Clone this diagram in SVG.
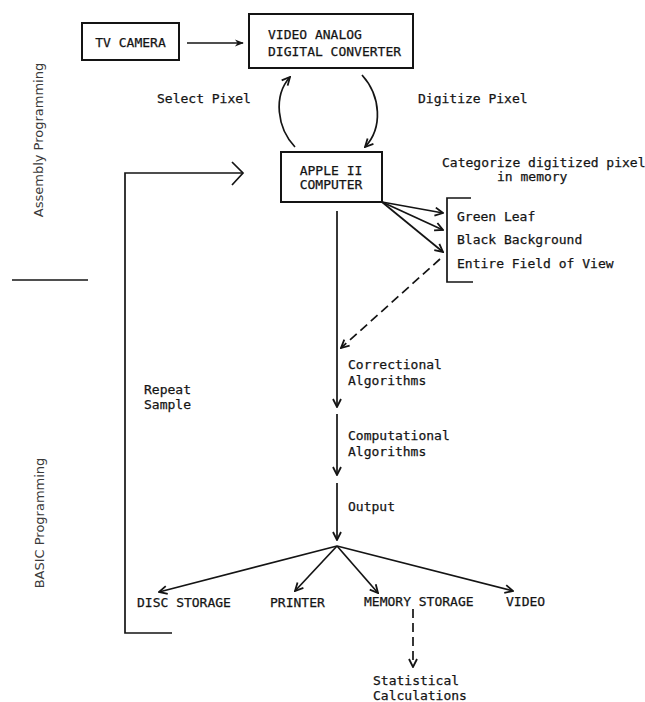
<svg xmlns="http://www.w3.org/2000/svg" width="645" height="702" viewBox="0 0 645 702">
<style>
text{font-family:"DejaVu Sans Mono","Liberation Mono",monospace;font-size:13px;fill:#141414;stroke:#141414;stroke-width:0.25}
.side{fill:#3a3a3a;stroke:none;font-family:"DejaVu Sans","Liberation Sans",sans-serif}
.box{fill:#fff;stroke:#141414;stroke-width:2}
.ln{fill:none;stroke:#141414;stroke-width:1.7}
.dash{stroke-dasharray:9 5}
</style>
<defs>
<marker id="v" viewBox="0 0 10 10" refX="9" refY="5" markerWidth="10" markerHeight="10" orient="auto" markerUnits="userSpaceOnUse">
<path d="M1,1 L9,5 L1,9" fill="none" stroke="#141414" stroke-width="1.8"/>
</marker>
<marker id="f" viewBox="0 0 10 10" refX="9" refY="5" markerWidth="10" markerHeight="9" orient="auto" markerUnits="userSpaceOnUse">
<path d="M0,1 L10,5 L0,9 L3,5 Z" fill="#141414"/>
</marker>
</defs>
<g id="labels">
<text class="side" transform="translate(43,140) rotate(-90)" text-anchor="middle" font-size="12.5">Assembly Programming</text>
<text class="side" transform="translate(44,523) rotate(-90)" text-anchor="middle" font-size="12.5">BASIC Programming</text>
<line class="ln" x1="12" y1="280" x2="88" y2="280"/>
</g>
<g id="tv-camera">
<rect class="box" x="82" y="23" width="97" height="37"/>
<text x="130.5" y="46.5" text-anchor="middle">TV CAMERA</text>
</g>
<g id="converter">
<rect class="box" x="249" y="14" width="164" height="54"/>
<text x="268" y="39">VIDEO ANALOG</text>
<text x="268" y="56">DIGITAL CONVERTER</text>
</g>
<g id="apple">
<rect class="box" x="281" y="152" width="101" height="50" stroke-width="2.4"/>
<text x="331" y="175" text-anchor="middle">APPLE II</text>
<text x="331" y="189" text-anchor="middle">COMPUTER</text>
</g>
<g id="categories">
<text x="442" y="167">Categorize digitized pixel</text>
<text x="497" y="181">in memory</text>
<path class="ln" d="M471,198 H447 V282 H473" stroke-width="2"/>
<text x="457" y="221">Green Leaf</text>
<text x="457" y="244">Black Background</text>
<text x="457" y="268">Entire Field of View</text>
</g>
<g id="steps">
<text x="157" y="103">Select Pixel</text>
<text x="418" y="103">Digitize Pixel</text>
<text x="348" y="369">Correctional</text>
<text x="348" y="385">Algorithms</text>
<text x="348" y="440">Computational</text>
<text x="348" y="456">Algorithms</text>
<text x="348" y="511">Output</text>
<text x="144" y="394">Repeat</text>
<text x="144" y="409">Sample</text>
</g>
<g id="outputs">
<text x="137" y="607">DISC STORAGE</text>
<text x="270" y="607">PRINTER</text>
<text x="364" y="606">MEMORY STORAGE</text>
<text x="506" y="606">VIDEO</text>
<text x="373" y="685">Statistical</text>
<text x="373" y="700">Calculations</text>
</g>
<g id="connectors">
<line class="ln" x1="187" y1="43" x2="243" y2="43" stroke-width="2" marker-end="url(#f)"/>
<path class="ln" d="M295,147 C277,128 273,96 290,77" marker-end="url(#v)"/>
<path class="ln" d="M362,75 C381,96 383,128 365,147" marker-end="url(#v)"/>
<line class="ln" x1="382" y1="202" x2="443" y2="213" marker-end="url(#v)"/>
<line class="ln" x1="382" y1="202" x2="443" y2="230" marker-end="url(#v)"/>
<line class="ln" x1="382" y1="202" x2="443" y2="252" marker-end="url(#v)"/>
<line class="ln dash" x1="440" y1="259" x2="341" y2="348" marker-end="url(#v)"/>
<line class="ln" x1="337" y1="211" x2="337" y2="407" marker-end="url(#v)"/>
<line class="ln" x1="337" y1="414" x2="337" y2="475" marker-end="url(#v)"/>
<line class="ln" x1="337" y1="483" x2="337" y2="540" marker-end="url(#v)"/>
<line class="ln" x1="337" y1="546" x2="159" y2="592" marker-end="url(#v)"/>
<line class="ln" x1="337" y1="546" x2="295" y2="591" marker-end="url(#v)"/>
<line class="ln" x1="337" y1="546" x2="378" y2="593" marker-end="url(#v)"/>
<line class="ln" x1="337" y1="546" x2="513" y2="591" marker-end="url(#v)"/>
<line class="ln dash" x1="413" y1="609" x2="413" y2="667" stroke-width="2" marker-end="url(#v)"/>
<path class="ln" d="M172,633 H125 V173 H242" stroke-width="2"/>
<path class="ln" d="M232,162 L243,173 L232,185" stroke-width="2"/>
</g>
</svg>
